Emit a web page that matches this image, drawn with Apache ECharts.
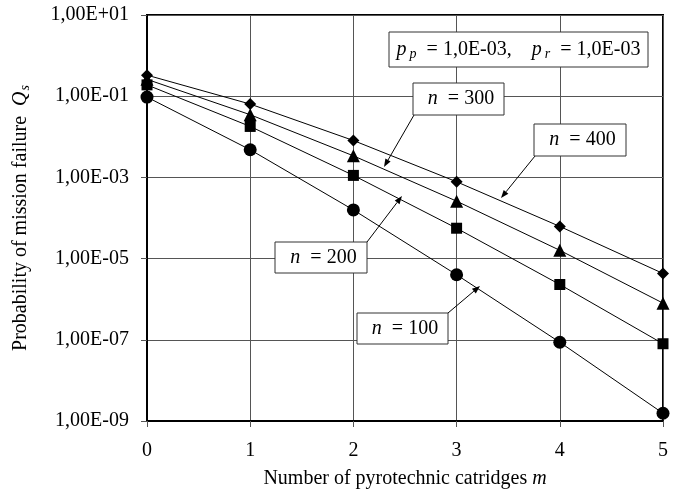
<!DOCTYPE html>
<html><head><meta charset="utf-8">
<script src="https://cdn.jsdelivr.net/npm/echarts@6/dist/echarts.min.js"></script>
<style>html,body{margin:0;padding:0;background:#fff}#c{width:682px;height:495px}</style>
</head><body><div id="c"></div>
<script>
const mValues = [0, 1, 2, 3, 4, 5];
const n100 = [0.095, 4.8e-3, 1.58e-4, 4.0e-6, 8.7e-8, 1.55e-9];
const n200 = [0.19, 1.8e-2, 1.12e-3, 5.6e-5, 2.3e-6, 8.0e-8];
const n300 = [0.26, 3.5e-2, 3.4e-3, 2.6e-4, 1.6e-5, 8.0e-7];
const n400 = [0.33, 6.4e-2, 8.1e-3, 7.8e-4, 6.2e-5, 4.3e-6];
const seriesNames = ['n = 100', 'n = 200', 'n = 300', 'n = 400'];

const FONT = '"Liberation Serif", "Times New Roman", serif';
const chart = echarts.init(document.getElementById('c'), null, {renderer: 'canvas'});

function pairs(ys) { return mValues.map((m, i) => [m, ys[i]]); }
function fmtE(v) {
  const e = Math.round(Math.log10(v));
  if (Math.abs(e % 2) !== 1) return '';
  const s = e < 0 ? '-' : '+';
  const a = Math.abs(e);
  return '1,00E' + s + (a < 10 ? '0' + a : a);
}

const mk = (name, data, symbol, size) => ({
  name, type: 'line', data: pairs(data), symbol, symbolSize: size,
  lineStyle: {color: '#000', width: 1}, itemStyle: {color: '#000'},
  showAllSymbol: true, animation: false, z: 3
});

function arrow(x1, y1, x2, y2) {
  const dx = x2 - x1, dy = y2 - y1, L = Math.hypot(dx, dy);
  const ux = dx / L, uy = dy / L, al = 8, aw = 3;
  const bx = x2 - ux * al, by = y2 - uy * al;
  return [
    {type: 'line', shape: {x1, y1, x2: bx, y2: by}, style: {stroke: '#000', lineWidth: 1}, z: 10},
    {type: 'polygon', shape: {points: [[x2, y2], [bx - uy * aw, by + ux * aw], [bx + uy * aw, by - ux * aw]]}, style: {fill: '#000'}, z: 10}
  ];
}
function box(x, y, w, h, text, rich) {
  return [
    {type: 'rect', shape: {x, y, width: w, height: h}, style: {fill: '#fff', stroke: '#333', lineWidth: 1}, z: 11},
    {type: 'text', x: x + w / 2, y: y + h / 2, style: {text, rich, align: 'center', verticalAlign: 'middle', fontFamily: FONT, fontSize: 20, fill: '#000'}, z: 12}
  ];
}
const nRich = {
  i: {fontStyle: 'italic', fontFamily: FONT, fontSize: 20},
  t: {fontFamily: FONT, fontSize: 20}
};
const pRich = {
  i: {fontStyle: 'italic', fontFamily: FONT, fontSize: 20},
  sub: {fontStyle: 'italic', fontFamily: FONT, fontSize: 14, padding: [10, 0, 0, 3]},
  t: {fontFamily: FONT, fontSize: 20}
};

const graphics = [].concat(
  arrow(414, 115, 384, 167),
  arrow(535, 156, 501, 198),
  arrow(367, 242, 402, 196),
  arrow(448, 313, 480, 286),
  box(389, 32, 259, 35, '{i|p}{sub|p}{t|  = 1,0E-03,    }{i|p}{sub|r}{t|  = 1,0E-03}', pRich),
  box(413, 83, 91, 32, '{t| }{i|n}{t|  = 300}', nRich),
  box(534, 124, 92, 32, '{t| }{i|n}{t|  = 400}', nRich),
  box(275, 242, 92, 31, '{t| }{i|n}{t|  = 200}', nRich),
  box(357, 313, 91, 31, '{t| }{i|n}{t|  = 100}', nRich)
);

chart.setOption({
  backgroundColor: '#fff',
  animation: false,
  grid: {left: 147, right: 19, top: 15, bottom: 74, show: true, borderColor: '#000', borderWidth: 2, containLabel: false},
  xAxis: {
    type: 'value', min: 0, max: 5, interval: 1,
    name: '{t|Number of pyrotechnic catridges }{i|m}', nameLocation: 'middle', nameGap: 48,
    nameTextStyle: {rich: {t: {fontFamily: FONT, fontSize: 20, color: '#000'}, i: {fontFamily: FONT, fontSize: 20, fontStyle: 'italic', color: '#000'}}},
    axisLine: {lineStyle: {color: '#000', width: 2}},
    axisTick: {show: true, length: 6, lineStyle: {color: '#555'}},
    splitLine: {show: true, lineStyle: {color: '#555', width: 1}},
    axisLabel: {fontFamily: FONT, fontSize: 20, color: '#000', margin: 20}
  },
  yAxis: {
    type: 'log', logBase: 10, min: 1e-9, max: 10, interval: 2,
    name: '{t|Probability of mission failure  }{i|Q}{s|s}', nameLocation: 'middle', nameGap: 115,
    nameTextStyle: {rich: {t: {fontFamily: FONT, fontSize: 20, color: '#000'}, i: {fontFamily: FONT, fontSize: 20, fontStyle: 'italic', color: '#000'}, s: {fontFamily: FONT, fontSize: 14, fontStyle: 'italic', color: '#000', padding: [8, 0, 0, 1]}}},
    axisLine: {show: true, lineStyle: {color: '#000', width: 2}},
    axisTick: {show: true, length: 6, lineStyle: {color: '#555'}},
    splitLine: {show: true, lineStyle: {color: '#555', width: 1}},
    axisLabel: {fontFamily: FONT, fontSize: 20, color: '#000', margin: 18, formatter: fmtE}
  },
  series: [
    mk(seriesNames[0], n100, 'circle', 13),
    mk(seriesNames[1], n200, 'rect', 11),
    mk(seriesNames[2], n300, 'triangle', 13),
    mk(seriesNames[3], n400, 'diamond', 12)
  ],
  graphic: graphics
});
</script>
</body></html>
